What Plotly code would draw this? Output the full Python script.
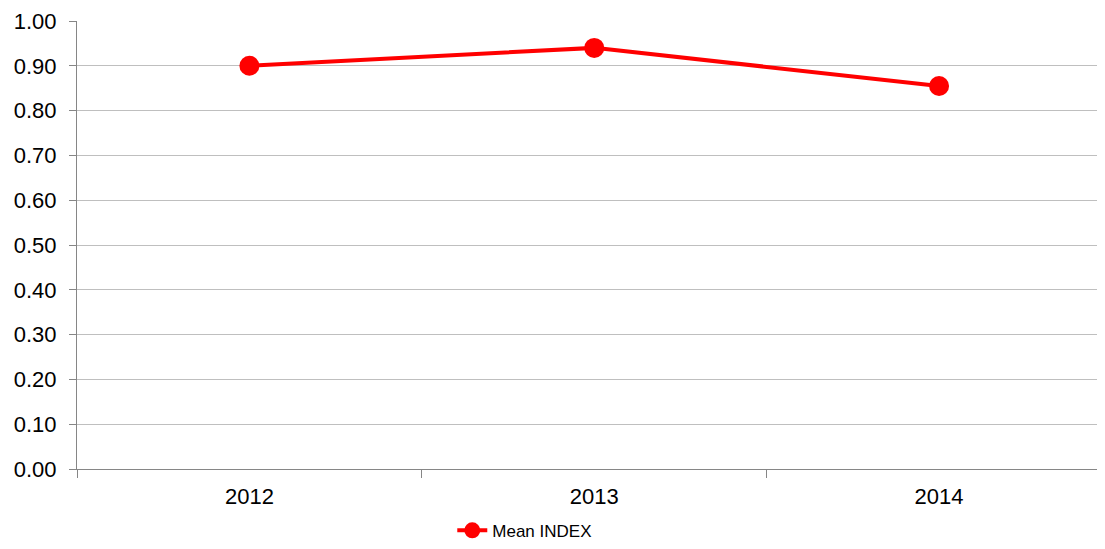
import plotly.graph_objects as go

years = ["2012", "2013", "2014"]
mean_index = [0.90, 0.94, 0.855]
y_ticks = [0.0, 0.1, 0.2, 0.3, 0.4, 0.5, 0.6, 0.7, 0.8, 0.9, 1.0]

fig = go.Figure()
fig.add_trace(go.Scatter(
    x=years, y=mean_index, mode="lines+markers", name="Mean INDEX",
    line=dict(color="#FF0000", width=4),
    marker=dict(color="#FF0000", size=20),
))

fig.update_layout(
    width=1089, height=533,
    margin=dict(l=69, r=0, t=13, b=72, autoexpand=False),
    plot_bgcolor="white", paper_bgcolor="white",
    font=dict(family="Liberation Sans, Arial, sans-serif", color="black", size=22),
    showlegend=True,
    legend=dict(orientation="h", x=0.439, xanchor="center", y=-0.138, yanchor="middle",
                font=dict(size=17), itemwidth=30),
    xaxis=dict(type="category", range=[-0.5, 2.458], showgrid=False,
               showline=True, linecolor="#868686", linewidth=1,
               ticks="outside", tickson="boundaries", ticklen=8, tickcolor="#868686",
               ticklabelstandoff=8, tickfont=dict(size=22), fixedrange=True),
    yaxis=dict(range=[0, 1], tickvals=y_ticks, tickformat=".2f",
               showgrid=True, gridcolor="#BFBFBF", gridwidth=1,
               showline=True, linecolor="#868686", linewidth=1,
               ticks="outside", ticklen=7, tickcolor="#868686",
               ticklabelstandoff=8,
               zeroline=False, tickfont=dict(size=22)),
)

fig.write_html("out.html")
